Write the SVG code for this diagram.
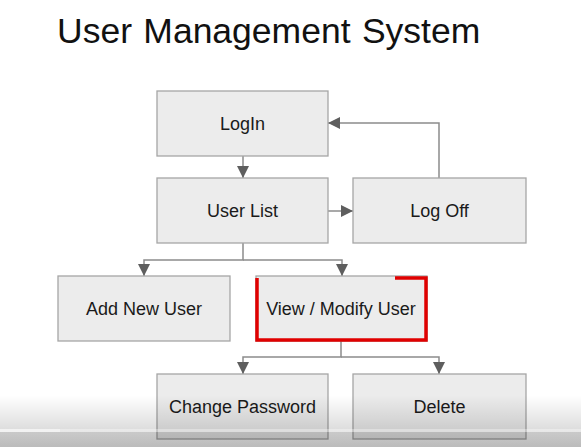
<svg xmlns="http://www.w3.org/2000/svg" width="581" height="447" viewBox="0 0 581 447">
<defs>
<style>
.box{fill:#ececec;stroke:#a6a6a6;stroke-width:1.3}
.lbl{font-family:"Liberation Sans",Arial,sans-serif;font-size:18px;fill:#1a1a1a;text-anchor:middle}
.con{fill:none;stroke:#8c8c8c;stroke-width:1.5}
.hl{fill:none;stroke:#e00000;stroke-width:3.5;stroke-linejoin:miter}
</style>
<marker id="ah" viewBox="0 0 12 12" refX="12" refY="6" markerWidth="12" markerHeight="12" markerUnits="userSpaceOnUse" orient="auto">
<path d="M0,0 L12,6 L0,12 Z" fill="#5e5e5e"/>
</marker>
<linearGradient id="shade" x1="0" y1="0" x2="0" y2="1">
<stop offset="0" stop-color="#000" stop-opacity="0"/>
<stop offset="1" stop-color="#000" stop-opacity="0.2"/>
</linearGradient>
</defs>
<rect width="581" height="447" fill="#ffffff"/>
<text x="57" y="43" font-family="'Liberation Sans',Arial,sans-serif" font-size="35.5" word-spacing="1.5" fill="#111">User Management System</text>

<g id="connectors">
<path class="con" d="M243,156 V178" marker-end="url(#ah)"/>
<path class="con" d="M328,211 H353" marker-end="url(#ah)"/>
<path class="con" d="M439,178 V123 H328" marker-end="url(#ah)"/>
<path class="con" d="M243,243 V260 H144 V276" marker-end="url(#ah)"/>
<path class="con" d="M243,260 H342 V276" marker-end="url(#ah)"/>
<path class="con" d="M341,341 V357 H243 V374" marker-end="url(#ah)"/>
<path class="con" d="M341,357 H439 V374" marker-end="url(#ah)"/>
</g>

<g id="login"><rect class="box" x="157" y="91" width="171" height="65"/><text class="lbl" x="242.5" y="130">LogIn</text></g>
<g id="userlist"><rect class="box" x="157" y="178" width="171" height="65"/><text class="lbl" x="242.5" y="217">User List</text></g>
<g id="logoff"><rect class="box" x="353" y="178" width="173" height="65"/><text class="lbl" x="439.5" y="217">Log Off</text></g>
<g id="addnewuser"><rect class="box" x="58" y="276" width="172" height="65"/><text class="lbl" x="144" y="315">Add New User</text></g>
<g id="viewmodify"><rect class="box" x="256" y="276" width="171" height="65"/><text class="lbl" x="341" y="315">View / Modify User</text>
<path class="hl" d="M257,278 V340 H426 V278 H395"/></g>
<g id="changepassword"><rect class="box" x="157" y="374" width="171" height="65"/><text class="lbl" x="242.5" y="413">Change Password</text></g>
<g id="delete"><rect class="box" x="353" y="374" width="173" height="65"/><text class="lbl" x="439.5" y="413">Delete</text></g>

<rect x="0" y="395" width="581" height="52" fill="url(#shade)"/>
<rect x="0" y="429" width="581" height="3" fill="#ffffff" opacity="0.35"/>
<rect x="0" y="429" width="60" height="3" fill="#f2f2f2"/>
<rect x="0" y="432" width="581" height="15" fill="#000" opacity="0.08"/>
</svg>
